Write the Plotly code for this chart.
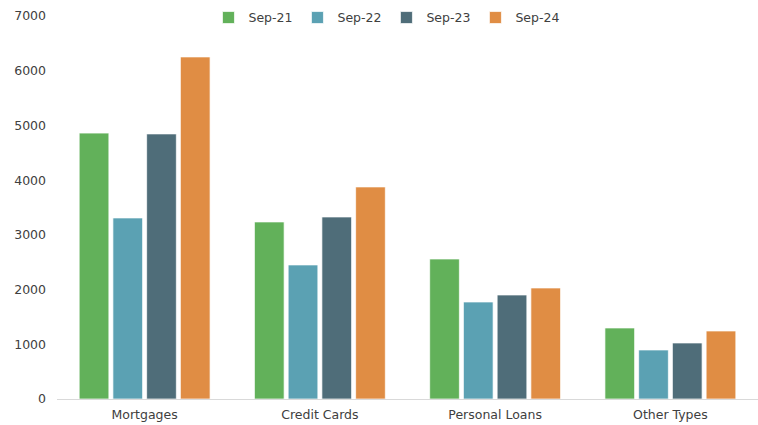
import plotly.graph_objects as go

categories = ["Mortgages", "Credit Cards", "Personal Loans", "Other Types"]
series_names = ["Sep-21", "Sep-22", "Sep-23", "Sep-24"]
sep21 = [4860, 3236, 2559, 1298]
sep22 = [3309, 2450, 1773, 896]
sep23 = [4845, 3327, 1901, 1024]
sep24 = [6252, 3876, 2029, 1243]
colors = ["#62B15A", "#5BA1B3", "#4F6D79", "#E08D44"]
y_ticks = [0, 1000, 2000, 3000, 4000, 5000, 6000, 7000]

fig = go.Figure()
for name, vals, col in zip(series_names, [sep21, sep22, sep23, sep24], colors):
    fig.add_trace(go.Bar(x=categories, y=vals, name=name,
                         marker=dict(color=col, line=dict(color="rgba(255,255,255,0.7)", width=1))))

font_family = "DejaVu Sans, Verdana, sans-serif"
fig.update_layout(
    width=758, height=425,
    margin=dict(l=57, r=0, t=16, b=26),
    paper_bgcolor="white", plot_bgcolor="white",
    barmode="group", bargap=0.23, bargroupgap=0.12,
    font=dict(family=font_family, size=12, color="#404040"),
    legend=dict(orientation="h", x=0.47, xanchor="center", y=0.995, yanchor="middle",
                font=dict(size=12.5, color="#404040"), itemwidth=30, traceorder="normal",
                bgcolor="rgba(0,0,0,0)"),
    xaxis=dict(showline=True, linecolor="#D9D9D9", linewidth=1, ticks="",
               ticklabelstandoff=4,
               tickfont=dict(size=12.5, color="#404040")),
    yaxis=dict(range=[0, 7000], tickvals=y_ticks, showgrid=False, zeroline=False,
               showline=False, ticks="", ticklabelstandoff=10,
               tickfont=dict(size=12.5, color="#404040")),
)

fig.write_html("out.html")
